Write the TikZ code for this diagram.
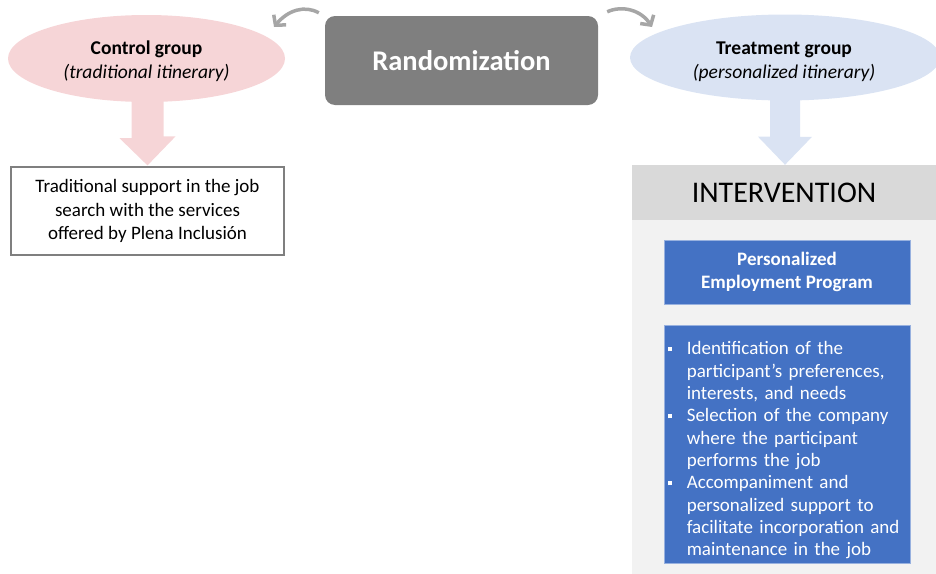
\documentclass[tikz,border=0pt]{standalone}
\usepackage{fontspec}
\setmainfont{Carlito}
\usetikzlibrary{shapes.geometric,arrows.meta,calc}

\definecolor{randgray}{HTML}{7F7F7F}
\definecolor{swinggray}{HTML}{A6A6A6}
\definecolor{ctrlpink}{HTML}{F6D5D7}
\definecolor{treatblue}{HTML}{DAE3F3}
\definecolor{headgray}{HTML}{D9D9D9}
\definecolor{panelgray}{HTML}{F2F2F2}
\definecolor{progblue}{HTML}{4472C4}

\newcommand{\blt}{\rule[3.5pt]{4.5pt}{4.5pt}}

\begin{document}
\begin{tikzpicture}[x=1pt, y=-1pt,
    group/.style={ellipse, minimum width=277pt, minimum height=87pt, inner sep=0pt},
    grouptext/.style={align=center, inner sep=0pt, font=\fontsize{19.5}{24}\selectfont},
    progbox/.style={fill=progblue, draw=progblue!55!white, line width=0.8pt, minimum width=246pt,
      inner sep=0pt, text=white},
    swing/.style={swinggray, line width=3.5pt, -{Straight Barb[length=7pt, width=16pt]}}]
  \useasboundingbox (0,0) rectangle (936,573);

  % top row
  \node[fill=randgray, rounded corners=10pt, minimum width=273pt, minimum height=89pt, text=white,
    font=\fontsize{28.5}{32}\selectfont\bfseries] (rand) at (461.5,60.5) {Randomization};
  \node[group, fill=ctrlpink] (ctrl) at (146.5,58.5) {};
  \node[grouptext] (ctrltext) at ($(ctrl.center)+(0,3)$) {\textbf{Control group}\\\textit{(traditional itinerary)}};
  \node[group, fill=treatblue, minimum width=310pt, minimum height=86pt] (treat) at (785,57.5) {};
  \node[grouptext] (treattext) at ($(treat.center)+(-1,4)$) {\textbf{Treatment group}\\\textit{(personalized itinerary)}};

  \coordinate (ctrlin) at (274,27);
  \coordinate (treatin) at (652,27);
  \draw[swing] ($(rand.north west)+(-6,-3)$) .. controls (305,5) and (288,10) .. (ctrlin);
  \draw[swing] ($(rand.north east)+(9,-4)$) .. controls (622,5) and (641,10) .. (treatin);

  % control side
  \node[draw=randgray, line width=1.2pt, fill=white, minimum width=273pt, minimum height=88pt, align=center,
    font=\fontsize{19}{23.5}\selectfont] (ctrlbox) at (147.5,211)
    {Traditional support in the job\\search with the services\\offered by Plena Inclusión};
  \fill[ctrlpink] ($(ctrl.south)+(-15,-3)$) -- ++(0,39) -- ++(-12,0) -- ($(ctrlbox.north)+(0,-1)$)
    -- ++(28,-29) -- ++(-12,0) -- ($(ctrl.south)+(17,-3)$) -- cycle;

  % treatment side
  \node[fill=panelgray, minimum width=304pt, minimum height=355pt, inner sep=0pt] (panel) at (784,397) {};
  \node[fill=headgray, minimum width=304pt, minimum height=55pt, inner sep=0pt,
    font=\fontsize{30}{34}\selectfont] (interv) at (784,192.5) {INTERVENTION};
  \fill[treatblue] ($(treat.south)+(-15,-3)$) -- ++(0,39) -- ++(-12,0) -- ($(interv.north)+(1,0)$)
    -- ++(27,-28) -- ++(-12,0) -- ($(treat.south)+(15,-3)$) -- cycle;

  \node[progbox, minimum height=64pt, align=center, font=\fontsize{19}{22.5}\selectfont\bfseries]
    (prog) at (787,272) {Personalized\\Employment Program};
  \node[progbox, minimum height=238pt] (steps) at (787,444) {};
  \node[anchor=north west, inner sep=0pt, text width=240pt, align=left, text=white,
    font=\fontsize{19}{22.3}\selectfont] (stepstext) at ($(steps.north west)+(4,17)$)
    {{\hangindent=19pt\hangafter=1\noindent\makebox[19pt][l]{\blt}Identification of the\newline participant’s preferences,\newline interests, and needs\par}
     {\hangindent=19pt\hangafter=1\noindent\makebox[19pt][l]{\blt}Selection of the company\newline where the participant\newline performs the job\par}
     {\hangindent=19pt\hangafter=1\noindent\makebox[19pt][l]{\blt}Accompaniment and\newline personalized support to\newline facilitate incorporation and\newline maintenance in the job\par}};

\end{tikzpicture}
\end{document}
